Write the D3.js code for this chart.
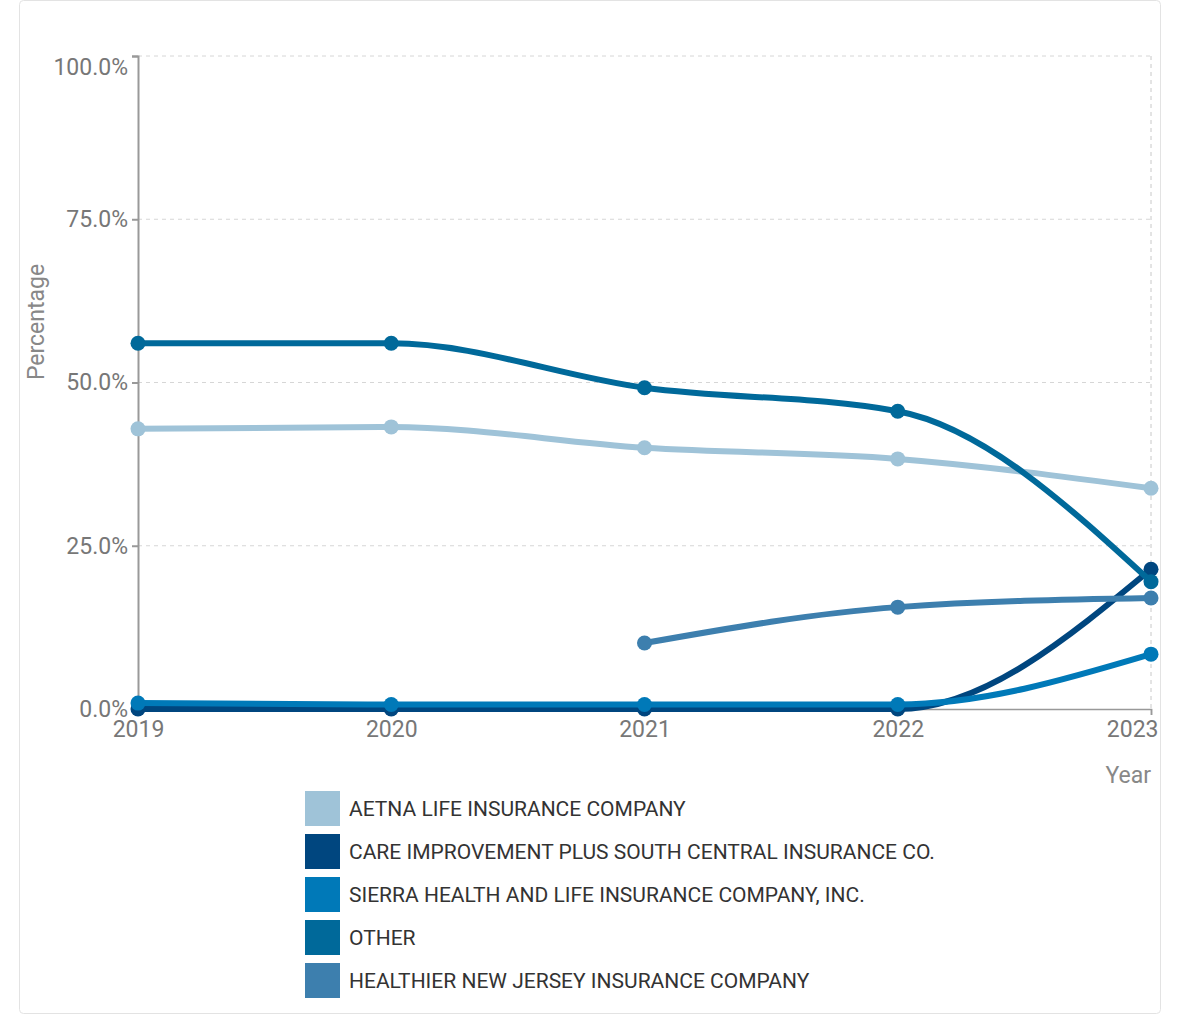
<!DOCTYPE html>
<html>
<head>
<meta charset="utf-8">
<script src="https://cdn.jsdelivr.net/npm/d3@7"></script>
<style>
  body { margin: 0; background: #fff; font-family: Roboto, "Noto Sans", sans-serif; }
  #vis { display: block; }
</style>
</head>
<body>
<svg id="vis" width="1186" height="1016"></svg>
<script>
// data
let years = [2019, 2020, 2021, 2022, 2023];
let seriesNames = [
  "AETNA LIFE INSURANCE COMPANY",
  "CARE IMPROVEMENT PLUS SOUTH CENTRAL INSURANCE CO.",
  "SIERRA HEALTH AND LIFE INSURANCE COMPANY, INC.",
  "OTHER",
  "HEALTHIER NEW JERSEY INSURANCE COMPANY"
];
let seriesColors = ["#9fc3d8", "#00467f", "#0079b8", "#00699a", "#3d7fae"];
let aetna = [42.9, 43.2, 40.0, 38.3, 33.8];
let careImprovement = [0.0, 0.0, 0.0, 0.0, 21.4];
let sierra = [0.9, 0.7, 0.7, 0.7, 8.4];
let other = [56.0, 56.0, 49.2, 45.6, 19.5];
let healthier = [null, null, 10.1, 15.6, 17.0];
let yTicks = [0, 25, 50, 75, 100];

let allValues = [aetna, careImprovement, sierra, other, healthier];

let svg = d3.select("#vis");

// card border
svg.append("rect")
  .attr("x", 19.5).attr("y", 0.5)
  .attr("width", 1141).attr("height", 1013)
  .attr("rx", 4)
  .attr("fill", "#fff")
  .attr("stroke", "#e3e3e3");

let margin = { top: 56, left: 138 };
let plotWidth = 1013;
let plotHeight = 653;

let x = d3.scalePoint()
  .domain(years)
  .range([0, plotWidth]);
let y = d3.scaleLinear()
  .domain([0, 100])
  .range([plotHeight, 0]);

let plot = svg.append("g")
  .attr("transform", "translate(" + margin.left + "," + margin.top + ")");

// horizontal gridlines
plot.append("g")
  .selectAll("line")
  .data(yTicks.filter(d => d > 0))
  .enter().append("line")
  .attr("x1", 0).attr("x2", plotWidth)
  .attr("y1", d => y(d)).attr("y2", d => y(d))
  .attr("stroke", "#d6d6d6")
  .attr("stroke-dasharray", "4,4");

// right edge dashed line
plot.append("line")
  .attr("x1", plotWidth).attr("x2", plotWidth)
  .attr("y1", 0).attr("y2", plotHeight)
  .attr("stroke", "#c8c8c8")
  .attr("stroke-dasharray", "4,4");

// axes
let yAxis = d3.axisLeft(y)
  .tickValues(yTicks)
  .tickSize(6)
  .tickPadding(4)
  .tickFormat(d => d.toFixed(1) + "%");
let yG = plot.append("g").call(yAxis);
yG.select(".domain").attr("stroke", "#999").attr("stroke-width", 2);
yG.selectAll(".tick line").attr("stroke", "#999").attr("stroke-width", 2);
yG.selectAll(".tick text")
  .attr("fill", "#777")
  .style("font-size", "23px")
  .style("font-family", "Roboto, sans-serif");
// top label sits a little lower so it stays inside
yG.selectAll(".tick text").filter(d => d === 100).attr("dy", "0.8em");

let xAxis = d3.axisBottom(x)
  .tickSize(6)
  .tickPadding(6)
  .tickFormat(d => String(d));
let xG = plot.append("g")
  .attr("transform", "translate(0," + plotHeight + ")")
  .call(xAxis);
xG.select(".domain").attr("stroke", "#999").attr("stroke-width", 1.5);
xG.selectAll(".tick line").attr("stroke", "#999").attr("stroke-width", 1.5);
xG.selectAll(".tick text")
  .attr("fill", "#777")
  .style("font-size", "23px")
  .style("font-family", "Roboto, sans-serif");
xG.selectAll(".tick text").filter(d => d === 2023)
  .attr("text-anchor", "end")
  .attr("x", 7);

// axis titles
svg.append("text")
  .attr("transform", "translate(44,322) rotate(-90)")
  .style("text-anchor", "middle")
  .style("font-size", "23px")
  .attr("fill", "#888")
  .text("Percentage");
svg.append("text")
  .attr("x", margin.left + plotWidth)
  .attr("y", 783)
  .style("text-anchor", "end")
  .style("font-size", "23px")
  .attr("fill", "#888")
  .text("Year");

// lines and points
let lineFunction = d3.line()
  .defined(d => d.v !== null)
  .x(d => x(d.year))
  .y(d => y(d.v))
  .curve(d3.curveMonotoneX);

allValues.forEach(function(vals, i) {
  let pts = years.map((yr, j) => ({ year: yr, v: vals[j] }));
  plot.append("path")
    .attr("d", lineFunction(pts))
    .attr("fill", "none")
    .attr("stroke", seriesColors[i])
    .attr("stroke-width", 6)
    .attr("stroke-linecap", "round");
  plot.append("g")
    .selectAll("circle")
    .data(pts.filter(d => d.v !== null))
    .enter().append("circle")
    .attr("cx", d => x(d.year))
    .attr("cy", d => y(d.v))
    .attr("r", 7.5)
    .attr("fill", seriesColors[i]);
});

// legend
let legend = svg.selectAll(".legend")
  .data(seriesNames)
  .enter().append("g")
  .attr("class", "legend")
  .attr("transform", (d, i) => "translate(305," + (791 + i * 43) + ")");
legend.append("rect")
  .attr("width", 35)
  .attr("height", 35)
  .attr("fill", (d, i) => seriesColors[i]);
legend.append("text")
  .attr("x", 44)
  .attr("y", 25)
  .style("font-size", "21px")
  .attr("fill", "#333")
  .text(d => d);
</script>
</body>
</html>
